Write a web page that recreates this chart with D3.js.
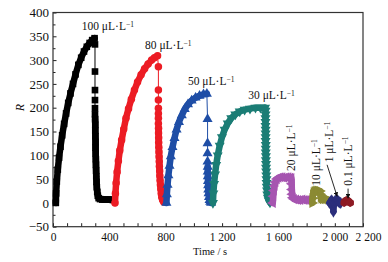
<!DOCTYPE html>
<html>
<head>
<meta charset="utf-8">
<script src="https://cdn.jsdelivr.net/npm/d3@7"></script>
<style>
  html, body { margin: 0; padding: 0; background: #fff; }
  svg text { font-family: 'Liberation Serif', 'Times New Roman', serif; fill: #111; }
</style>
</head>
<body>
<div id="chart"></div>
<script>
// time (s), R
const rise100 = [[20,0],[22,20],[27,45],[34,70],[43,95],[53,118],[65,142],[79,166],[93,188],[108,210],[124,230],[142,250],[160,270],[180,290],[200,305],[220,318],[240,328],[260,336],[278,342],[295,346]];
const stem100 = [[298,333],[298,276],[298,237],[298,216],[298,199],[298,186]];
const fall100 = [[299,176],[300,164],[300,152],[301,140],[302,128],[302,116],[303,104],[304,92],[305,80],[306,68],[307,56],[309,44],[311,33],[314,23],[318,15],[324,10],[334,8],[350,7],[370,7],[390,7],[410,7],[425,6]];

const rise80 = [[440,0],[443,20],[448,42],[455,65],[464,88],[474,110],[487,132],[502,155],[518,178],[536,198],[556,218],[578,237],[600,254],[625,269],[650,282],[675,292],[700,300],[720,305],[742,309]];
const stem80 = [[748,286],[748,237],[748,216],[748,199],[748,188],[748,178],[748,167]];
const fall80 = [[749,157],[749,147],[750,137],[750,127],[751,117],[752,107],[753,97],[754,87],[755,77],[757,67],[758,57],[760,47],[762,38],[765,29],[768,20],[772,12],[778,6],[786,2]];

const rise50 = [[805,0],[808,18],[813,38],[819,58],[827,78],[836,98],[848,117],[862,136],[877,154],[894,170],[914,184],[935,197],[958,207],[984,215],[1012,221],[1040,225],[1068,228],[1092,229]];
const stem50 = [[1097,176],[1097,125],[1097,104],[1097,87]];
const fall50 = [[1098,76],[1098,66],[1099,56],[1100,46],[1101,37],[1102,28],[1104,20],[1107,12],[1111,6],[1116,2],[1122,0]];

const rise30 = [[1135,0],[1138,20],[1143,40],[1150,60],[1158,80],[1169,100],[1183,120],[1199,138],[1218,154],[1240,167],[1265,178],[1294,186],[1325,192],[1360,196],[1398,198],[1437,200],[1472,200],[1505,200]];
const stem30 = [];
const fall30 = [[1508,194],[1508,186],[1508,178],[1508,170],[1508,162],[1509,154],[1509,146],[1509,138],[1509,130],[1510,122],[1510,114],[1510,106],[1511,98],[1511,90],[1512,82],[1512,74],[1513,66],[1514,58],[1515,50],[1516,42],[1517,34],[1519,26],[1521,18],[1525,11],[1531,5],[1540,1]];

const rise20 = [[1560,0],[1563,14],[1567,26],[1572,36],[1579,44],[1588,50],[1600,53],[1614,54],[1628,54],[1642,53],[1656,54],[1670,54],[1683,53],[1692,52],[1694,40],[1695,28],[1697,18],[1701,11],[1710,8],[1725,7],[1740,6],[1755,6],[1770,7],[1785,6],[1800,6],[1815,6],[1825,6]];
const rise10 = [[1840,0],[1842,10],[1845,18],[1850,23],[1857,25],[1867,26],[1878,26],[1888,25],[1895,25],[1898,18],[1900,12],[1905,9],[1915,8],[1928,8],[1940,8],[1952,7]];
const rise1 = [[1962,0],[1970,3],[1978,5],[1986,2],[1990,-18],[1994,0],[2002,4],[2010,6],[2018,5],[2026,3],[2034,1],[2042,0]];
const rise01 = [[2066,0],[2072,3],[2078,5],[2085,6],[2092,5],[2098,3],[2104,1],[2110,0]];

const concLabels = ['100', '80', '50', '30', '20', '10', '1', '0.1'];
const colors = ['#000000', '#ec1c24', '#1f4ea6', '#1b7d75', '#a655b0', '#8b8a33', '#2b2e7c', '#8e1b24'];
const xTickLabels = [0, 400, 800, 1200, 1600, 2000, 2200];
const yTickLabels = [-50, 0, 50, 100, 150, 200, 250, 300, 350, 400];

const W = 388, H = 262;
const plot = { left: 53, right: 363, top: 12.5, bottom: 226.7 };

const x = d3.scaleLinear().domain([0, 2200]).range([plot.left, plot.right]);
const y = d3.scaleLinear().domain([-50, 400]).range([plot.bottom, plot.top]);

const svg = d3.select('#chart')
  .append('svg')
  .attr('width', W)
  .attr('height', H)
  .style('display', 'block');

// hexagon marker for the last series
const symbolHex = {
  draw(ctx, size) {
    const r = Math.sqrt(size * 2 / (3 * Math.sqrt(3)));
    for (let i = 0; i < 6; i++) {
      const a = Math.PI / 3 * i + Math.PI / 6;
      if (i === 0) ctx.moveTo(r * Math.cos(a), r * Math.sin(a));
      else ctx.lineTo(r * Math.cos(a), r * Math.sin(a));
    }
    ctx.closePath();
  }
};

const markers = [
  { type: d3.symbolSquare, rot: 0, size: 44 },
  { type: d3.symbolCircle, rot: 0, size: 44 },
  { type: d3.symbolTriangle, rot: 0, size: 44 },
  { type: d3.symbolTriangle, rot: 180, size: 44 },
  { type: d3.symbolTriangle, rot: -90, size: 44 },
  { type: d3.symbolTriangle, rot: 90, size: 44 },
  { type: d3.symbolDiamond, rot: 0, size: 44 },
  { type: symbolHex, rot: 0, size: 44 }
];

const parts = [
  [rise100, stem100, fall100],
  [rise80, stem80, fall80],
  [rise50, stem50, fall50],
  [rise30, stem30, fall30],
  [rise20, [], []],
  [rise10, [], []],
  [rise1, [], []],
  [rise01, [], []]
];

const series = concLabels.map((c, i) => ({
  name: c,
  color: colors[i],
  marker: markers[i],
  rise: parts[i][0],
  stem: parts[i][1],
  fall: parts[i][2]
}));

// axes (ticks pointing inward)
const xAxis = d3.axisBottom(x)
  .tickValues(d3.range(0, 2201, 100))
  .tickSizeInner(-3.5)
  .tickSizeOuter(0)
  .tickPadding(6)
  .tickFormat(d => xTickLabels.includes(d) ? String(d).replace(/(\d)(?=(\d{3})$)/, '$1 ') : '');

const gx = svg.append('g')
  .attr('transform', `translate(0, ${plot.bottom})`)
  .call(xAxis);
gx.select('.domain').remove();
gx.selectAll('text').style('font-size', '11.5px').style('font-family', "'Liberation Serif', serif");
// last label sits a little right of its tick in the original
gx.selectAll('.tick').filter(d => d === 2200).select('text').attr('dx', 5);

const yAxis = d3.axisLeft(y)
  .tickValues(d3.range(-50, 401, 25))
  .tickSizeInner(-3.5)
  .tickSizeOuter(0)
  .tickPadding(4)
  .tickFormat(d => yTickLabels.includes(d) ? d3.format('')(d).replace('-', '\u2212') : '');

const gy = svg.append('g')
  .attr('transform', `translate(${plot.left}, 0)`)
  .call(yAxis);
gy.select('.domain').remove();
gy.selectAll('.tick')
  .filter(d => !yTickLabels.includes(d))
  .select('line').attr('x2', 2.5);
gy.selectAll('text').style('font-size', '13px').style('font-family', "'Liberation Serif', serif");

svg.selectAll('.tick line').attr('stroke', '#222');

// frame
svg.append('rect')
  .attr('x', plot.left)
  .attr('y', plot.top)
  .attr('width', plot.right - plot.left)
  .attr('height', plot.bottom - plot.top)
  .attr('fill', 'none')
  .attr('stroke', '#333')
  .attr('stroke-width', 1.2);

// axis titles
svg.append('text')
  .attr('x', x(1100) + 2)
  .attr('y', 255)
  .attr('text-anchor', 'middle')
  .style('font-size', '10.5px')
  .text('Time / s');

svg.append('text')
  .attr('transform', `translate(24, ${y(200)}) rotate(-90)`)
  .attr('text-anchor', 'middle')
  .style('font-size', '12px')
  .style('font-style', 'italic')
  .text('R');

// curves
const line = d3.line()
  .x(d => x(d[0]))
  .y(d => y(d[1]));

const graph = svg.append('g');

series.forEach(s => {
  const g = graph.append('g');

  // thin line through the sparse part of the drop
  const stemPath = [s.rise[s.rise.length - 1], ...s.stem];
  if (s.fall.length) stemPath.push(s.fall[0]);
  if (s.stem.length) {
    g.append('path')
      .attr('d', line(stemPath))
      .attr('fill', 'none')
      .attr('stroke', s.color)
      .attr('stroke-width', 1);
  }

  // dense parts look like a solid band
  [s.rise, s.stem.length ? s.fall : [s.rise[s.rise.length - 1], ...s.fall]].forEach(seg => {
    if (seg.length < 2) return;
    g.append('path')
      .attr('d', line(seg))
      .attr('fill', 'none')
      .attr('stroke', s.color)
      .attr('stroke-width', 6.5)
      .attr('stroke-linejoin', 'round')
      .attr('stroke-linecap', 'round');
  });

  const sym = d3.symbol().type(s.marker.type).size(s.marker.size);
  g.selectAll('path.pt')
    .data([...s.rise, ...s.stem, ...s.fall])
    .enter()
    .append('path')
    .attr('class', 'pt')
    .attr('d', sym)
    .attr('fill', s.color)
    .attr('transform', d => `translate(${x(d[0])}, ${y(d[1])}) rotate(${s.marker.rot})`);
});

// concentration labels, placed in data coordinates
const annotations = [
  { c: '100', t: 204, r: 363, rot: 0 },
  { c: '80', t: 653, r: 323, rot: 0 },
  { c: '50', t: 958, r: 247, rot: 0 },
  { c: '30', t: 1386, r: 218, rot: 0 },
  { c: '20', t: 1690, r: 116, rot: -90 },
  { c: '10', t: 1866, r: 85, rot: -90 },
  { c: '1', t: 1962, r: 128, rot: -90 },
  { c: '0.1', t: 2090, r: 88, rot: -90 }
];

annotations.forEach(a => {
  const t = svg.append('text')
    .style('font-size', '11.5px');
  if (a.rot) {
    t.attr('transform', `translate(${x(a.t)}, ${y(a.r)}) rotate(${a.rot})`)
      .attr('text-anchor', 'middle')
      .attr('dy', '0.35em');
  } else {
    t.attr('x', x(a.t)).attr('y', y(a.r));
  }
  t.append('tspan').text(`${a.c} \u03bcL\u00b7L`);
  t.append('tspan')
    .attr('dy', '-0.45em')
    .style('font-size', '7.5px')
    .text('\u22121');
});

// arrows to the 1 and 0.1 curves
const defs = svg.append('defs');
defs.append('marker')
  .attr('id', 'arrow')
  .attr('viewBox', '0 0 10 10')
  .attr('refX', 9)
  .attr('refY', 5)
  .attr('markerWidth', 5)
  .attr('markerHeight', 5)
  .attr('orient', 'auto')
  .append('path')
  .attr('d', 'M0,0 L10,5 L0,10 z')
  .attr('fill', '#111');

const arrows = [
  [[1945, 80], [2016, 14]],
  [[2094, 30], [2094, 10]]
];

arrows.forEach(a => {
  svg.append('line')
    .attr('x1', x(a[0][0])).attr('y1', y(a[0][1]))
    .attr('x2', x(a[1][0])).attr('y2', y(a[1][1]))
    .attr('stroke', '#111')
    .attr('stroke-width', 0.9)
    .attr('marker-end', 'url(#arrow)');
});
</script>
</body>
</html>
